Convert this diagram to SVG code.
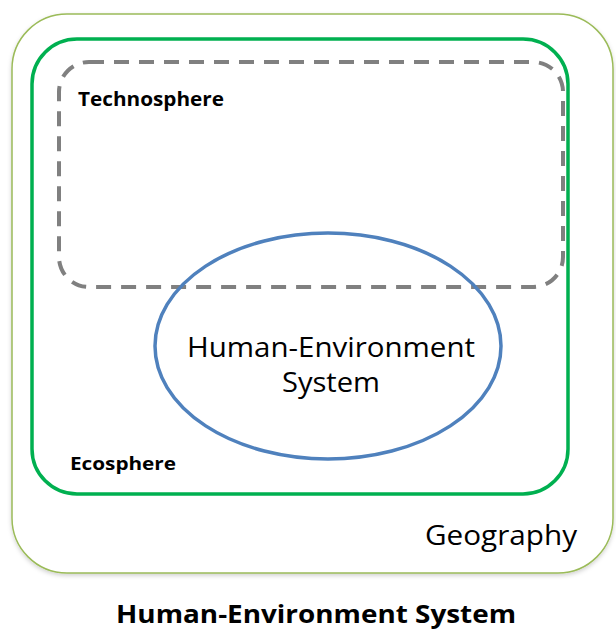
<svg xmlns="http://www.w3.org/2000/svg" width="616" height="631" viewBox="0 0 616 631">
<style>
.lbl{font-family:"Open Sans","Liberation Sans",sans-serif;fill:#000}
.b{font-weight:bold}
</style>
<defs>
<filter id="sh" x="-5%" y="-5%" width="110%" height="110%">
<feDropShadow dx="0" dy="2" stdDeviation="2" flood-color="#000" flood-opacity="0.18"/>
</filter>
</defs>
<rect width="616" height="631" fill="#fff"/>
<g id="geography">
<rect x="12" y="14" width="601" height="559" rx="55" ry="55" fill="#fff" stroke="#9bbb59" stroke-width="1.5" filter="url(#sh)"/>
<text class="lbl" x="577" y="545" font-size="27" text-anchor="end" textLength="152" lengthAdjust="spacingAndGlyphs">Geography</text>
</g>
<g id="ecosphere">
<rect x="32" y="39" width="536" height="455" rx="45" ry="45" fill="none" stroke="#00b050" stroke-width="3.5"/>
<text class="lbl b" x="70" y="470" font-size="18" textLength="106" lengthAdjust="spacingAndGlyphs">Ecosphere</text>
</g>
<g id="technosphere">
<rect x="59" y="62" width="504" height="225" rx="30" ry="30" fill="none" stroke="#808080" stroke-width="4" stroke-dasharray="15,10"/>
<text class="lbl b" x="78" y="106" font-size="19" textLength="146" lengthAdjust="spacingAndGlyphs">Technosphere</text>
</g>
<g id="hes">
<ellipse cx="328" cy="346" rx="173" ry="113" fill="none" stroke="#4f81bd" stroke-width="3.5"/>
<text class="lbl" x="331" y="357" font-size="28" text-anchor="middle" textLength="288" lengthAdjust="spacingAndGlyphs">Human-Environment</text>
<text class="lbl" x="331" y="392" font-size="28" text-anchor="middle" textLength="98" lengthAdjust="spacingAndGlyphs">System</text>
</g>
<g id="connectors"></g>
<text class="lbl b" x="316" y="623" font-size="25" text-anchor="middle" textLength="400" lengthAdjust="spacingAndGlyphs">Human-Environment System</text>
</svg>
